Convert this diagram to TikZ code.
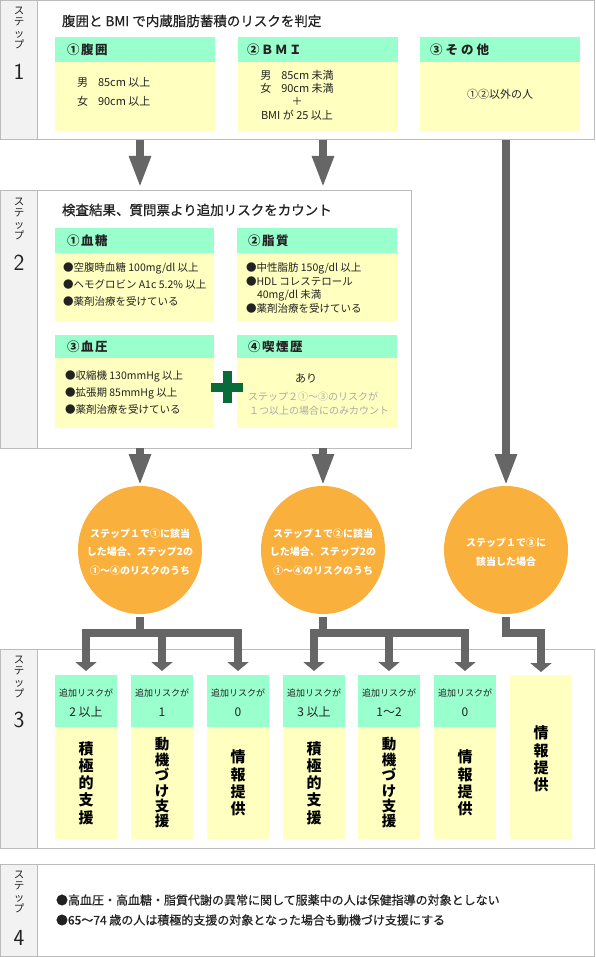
\documentclass[tikz,border=0pt]{standalone}
\usepackage{fontspec}
\setmainfont{Noto Sans CJK JP}
\newfontfamily\medfont{Noto Sans CJK JP}[FakeBold=0.5]
\usetikzlibrary{arrows.meta,shapes.geometric}
\definecolor{mint}{HTML}{99FFCC}
\definecolor{cream}{HTML}{FFFFC0}
\definecolor{bordergray}{HTML}{BBBBBB}
\definecolor{labgray}{HTML}{F2F2F2}
\definecolor{arrowgray}{HTML}{666666}
\definecolor{orangec}{HTML}{F9B03C}
\definecolor{plusgreen}{HTML}{0A6B3A}
\definecolor{faint}{HTML}{AAAAAA}
\definecolor{textc}{HTML}{222222}
\newcommand{\fsz}[2]{\fontsize{#1pt}{#2pt}\selectfont}
\newcommand{\hk}{\kern1.5pt}
\newcommand{\rbox}[6]{\node[#2,minimum width=#5pt,minimum height=#6pt] (#1) at (#3,#4) {};}
\begin{document}
\begin{tikzpicture}[x=1pt,y=-1pt,
  panel/.style={draw=bordergray,line width=1pt,fill=white,anchor=north west,inner sep=0,outer sep=0},
  labcol/.style={panel,fill=labgray},
  hdr/.style={fill=mint,anchor=north west,inner sep=0,outer sep=0},
  bdy/.style={fill=cream,anchor=north west,inner sep=0,outer sep=0},
  tx/.style={inner sep=0,outer sep=0,anchor=west,text=textc,font=\fsz{11}{13}},
  tx2/.style={tx,font=\fsz{10.5}{12}},
  gtx/.style={tx,text=faint,font=\fsz{10}{12}},
  hdtx/.style={tx,font=\bfseries\fsz{12.5}{14}},
  titletx/.style={tx,font=\medfont\fsz{13.5}{15}},
  ctr/.style={inner sep=0,outer sep=0,anchor=center,text=textc,font=\fsz{11}{13}},
  steplab/.style={inner sep=0,anchor=north,align=center,text=textc,font=\fsz{10.5}{11.3}},
  stepnum/.style={inner sep=0,text=textc,font=\sffamily\fsz{23}{23}},
  circ/.style={ellipse,fill=orangec,minimum width=124pt,minimum height=128pt,inner sep=0,outer sep=0},
  circtx/.style={inner sep=0,align=center,text=white,font=\bfseries\fsz{10}{18.5}},
  vtx/.style={inner sep=0,align=center,text=black,font=\bfseries\fsz{15}{17.2}},
  vtxs/.style={vtx,font=\bfseries\fsz{14.5}{15.4}},
  bigarrow/.style={color=arrowgray,line width=8pt,-{Triangle[width=20pt,length=32pt]}},
  branch/.style={color=arrowgray,line width=7.5pt,line join=miter},
  tipS/.style={-{Triangle[width=21pt,length=9pt]}},
  tipSS/.style={{Triangle[width=21pt,length=9pt]}-{Triangle[width=21pt,length=9pt]}},
]
\useasboundingbox (0,0) rectangle (595,957);

% ---------- panels
\rbox{s1}{panel}{0.5}{0.5}{594}{139.5}
\rbox{l1}{labcol}{0.5}{0.5}{37}{139.5}
\rbox{s2}{panel}{0.5}{191}{410.5}{257}
\rbox{l2}{labcol}{0.5}{191}{37}{257}
\rbox{s3}{panel}{0.5}{649}{594}{199}
\rbox{l3}{labcol}{0.5}{649}{37}{199}
\rbox{s4}{panel}{0.5}{864}{594}{92}
\rbox{l4}{labcol}{0.5}{864}{37}{92}

% ---------- step labels
\node[steplab] (sl1) at (19,7) {ス\\テ\\ッ\\プ};
\node[stepnum] (sn1) at (19,72) {1};
\node[steplab] (sl2) at (19,198) {ス\\テ\\ッ\\プ};
\node[stepnum] (sn2) at (19,263) {2};
\node[steplab] (sl3) at (19,656) {ス\\テ\\ッ\\プ};
\node[stepnum] (sn3) at (19,720) {3};
\node[steplab] (sl4) at (19,871) {ス\\テ\\ッ\\プ};
\node[stepnum] (sn4) at (19,938) {4};

% ---------- step 1
\node[titletx] (ti1) at (62,21) {腹囲と BMI で内蔵脂肪蓄積のリスクを判定};
\rbox{h11}{hdr}{55}{37}{160}{25}
\rbox{b11}{bdy}{55}{62}{160}{69}
\rbox{h12}{hdr}{238}{37}{160}{25}
\rbox{b12}{bdy}{238}{62}{160}{69}
\rbox{h13}{hdr}{420}{37}{160}{25}
\rbox{b13}{bdy}{420}{62}{160}{69}
\node[hdtx] (ht11) at (67,50) {①\hk{}腹\hk{}囲};
\node[hdtx] (ht12) at (247,50) {②\hk{}Ｂ\hk{}Ｍ\hk{}Ｉ};
\node[hdtx] (ht13) at (430,50) {③\kern3pt{}そ\kern3pt{}の\kern3pt{}他};
\node[tx] (t11a) at (77,82) {男\hspace{10pt}85cm 以上};
\node[tx] (t11b) at (77,101) {女\hspace{10pt}90cm 以上};
\node[ctr] (t12a) at (297,75) {男\hspace{10pt}85cm 未満};
\node[ctr] (t12b) at (297,88) {女\hspace{10pt}90cm 未満};
\node[ctr] (t12c) at (297,101) {＋};
\node[ctr] (t12d) at (297,115) {BMI が 25 以上};
\node[ctr] (t13) at (500,94) {①②以外の人};

% ---------- step 2
\node[titletx] (ti2) at (62,210) {検査結果、質問票より追加リスクをカウント};
\rbox{h21}{hdr}{55}{228}{159}{25}
\rbox{b21}{bdy}{55}{253}{159}{69}
\rbox{h22}{hdr}{237}{228}{160}{25}
\rbox{b22}{bdy}{237}{253}{160}{69}
\rbox{h23}{hdr}{55}{335}{159}{23}
\rbox{b23}{bdy}{55}{358}{159}{70}
\rbox{h24}{hdr}{237}{335}{160}{23}
\rbox{b24}{bdy}{237}{358}{160}{70}
\node[hdtx] (ht21) at (67,241) {①\hk{}血\hk{}糖};
\node[hdtx] (ht22) at (248,241) {②\hk{}脂\hk{}質};
\node[hdtx] (ht23) at (67,347) {③\hk{}血\hk{}圧};
\node[hdtx] (ht24) at (248,347) {④\hk{}喫\hk{}煙\hk{}歴};
\node[tx2] (t21a) at (63,268) {●空腹時血糖 100mg/dl 以上};
\node[tx2] (t21b) at (63,285) {●ヘモグロビン A1c 5.2\% 以上};
\node[tx2] (t21c) at (63,302) {●薬剤治療を受けている};
\node[tx2] (t22a) at (246,268) {●中性脂肪 150g/dl 以上};
\node[tx2] (t22b) at (246,282) {●HDL コレステロール};
\node[tx2] (t22c) at (257,295) {40mg/dl 未満};
\node[tx2] (t22d) at (246,309) {●薬剤治療を受けている};
\node[tx2] (t23a) at (65,376) {●収縮機 130mmHg 以上};
\node[tx2] (t23b) at (65,393) {●拡張期 85mmHg 以上};
\node[tx2] (t23c) at (65,410) {●薬剤治療を受けている};
\node[ctr] (t24a) at (306,378) {あり};
\node[gtx] (t24b) at (248,397) {ステップ２①～③のリスクが};
\node[gtx] (t24c) at (249,411) {１つ以上の場合にのみカウント};
\node[inner sep=0] (plus) at (227,387) {};
\fill[plusgreen] ([shift={(-16,-4.5)}]plus.center) rectangle ([shift={(16,4.5)}]plus.center);
\fill[plusgreen] ([shift={(-4.5,-16)}]plus.center) rectangle ([shift={(4.5,16)}]plus.center);

% ---------- circles
\node[circ] (c1) at (140,550) {};
\node[circ] (c2) at (323,550) {};
\node[circ] (c3) at (506,550) {};
\node[circtx] (ct1) at (140,552) {ステップ１で①に該当\\した場合、ステップ2の\\①～④のリスクのうち};
\node[circtx] (ct2) at (323,552) {ステップ１で②に該当\\した場合、ステップ2の\\①～④のリスクのうち};
\node[circtx] (ct3) at (506,552) {ステップ１で③に\\該当した場合};

% ---------- step 3 columns
\foreach \i/\x/\n in {1/55/{2 以上},2/131/1,3/207/0,4/283/{3 以上},5/358/{1～2},6/434/0}{
  \rbox{p\i}{hdr}{\x}{675}{62}{52}
  \rbox{q\i}{bdy}{\x}{727}{62}{112}
  \node[ctr,font=\fsz{9}{10}] (pa\i) at (\x+31,693) {追加リスクが};
  \node[ctr,font=\fsz{12}{14}] (pb\i) at (\x+31,712) {\n};
}
\rbox{p7}{bdy}{510}{675}{62}{164}
\node[vtx] (v1) at (p1 |- 0,783) {積\\極\\的\\支\\援};
\node[vtxs] (v2) at (p2 |- 0,783) {動\\機\\づ\\け\\支\\援};
\node[vtx] (v3) at (p3 |- 0,783) {情\\報\\提\\供};
\node[vtx] (v4) at (p4 |- 0,783) {積\\極\\的\\支\\援};
\node[vtxs] (v5) at (p5 |- 0,783) {動\\機\\づ\\け\\支\\援};
\node[vtx] (v6) at (p6 |- 0,783) {情\\報\\提\\供};
\node[vtx] (v7) at (p7 |- 0,759) {情\\報\\提\\供};

% ---------- step 4
\node[tx,font=\medfont\fsz{12}{14}] (f1) at (56,900) {●高血圧・高血糖・脂質代謝の異常に関して服薬中の人は保健指導の対象としない};
\node[tx,font=\medfont\fsz{12}{14}] (f2) at (56,920) {●65～74 歳の人は積極的支援の対象となった場合も動機づけ支援にする};

% ---------- arrows
\draw[bigarrow,shorten >=3pt] (c1 |- s1.south) -- (c1 |- s2.north);
\draw[bigarrow,shorten >=3pt] (c2 |- s1.south) -- (c2 |- s2.north);
\draw[bigarrow] (c1 |- s2.south) -- (c1.north);
\draw[bigarrow] (c2 |- s2.south) -- (c2.north);
\draw[bigarrow] (c3 |- s1.south) -- (c3.north);

\coordinate (j1) at (c1 |- 0,633);
\coordinate (j2) at (c2 |- 0,633);
\coordinate (j3) at (c3 |- 0,633);
\draw[branch,shorten <=3pt] (c1.south) -- (j1);
\draw[branch,tipSS,shorten <=4pt,shorten >=4pt] (p1.north) |- (j1) -| (p3.north);
\draw[branch,tipS,shorten >=4pt] (j1 -| p2.north) -- (p2.north);
\draw[branch,shorten <=3pt] (c2.south) -- (j2);
\draw[branch,tipSS,shorten <=4pt,shorten >=4pt] (p4.north) |- (j2) -| (p6.north);
\draw[branch,tipS,shorten >=4pt] (j2 -| p5.north) -- (p5.north);
\draw[branch,tipS,shorten <=3pt,shorten >=3pt] (c3.south) |- (j3 -| p7.north) -- (p7.north);
\end{tikzpicture}
\end{document}
